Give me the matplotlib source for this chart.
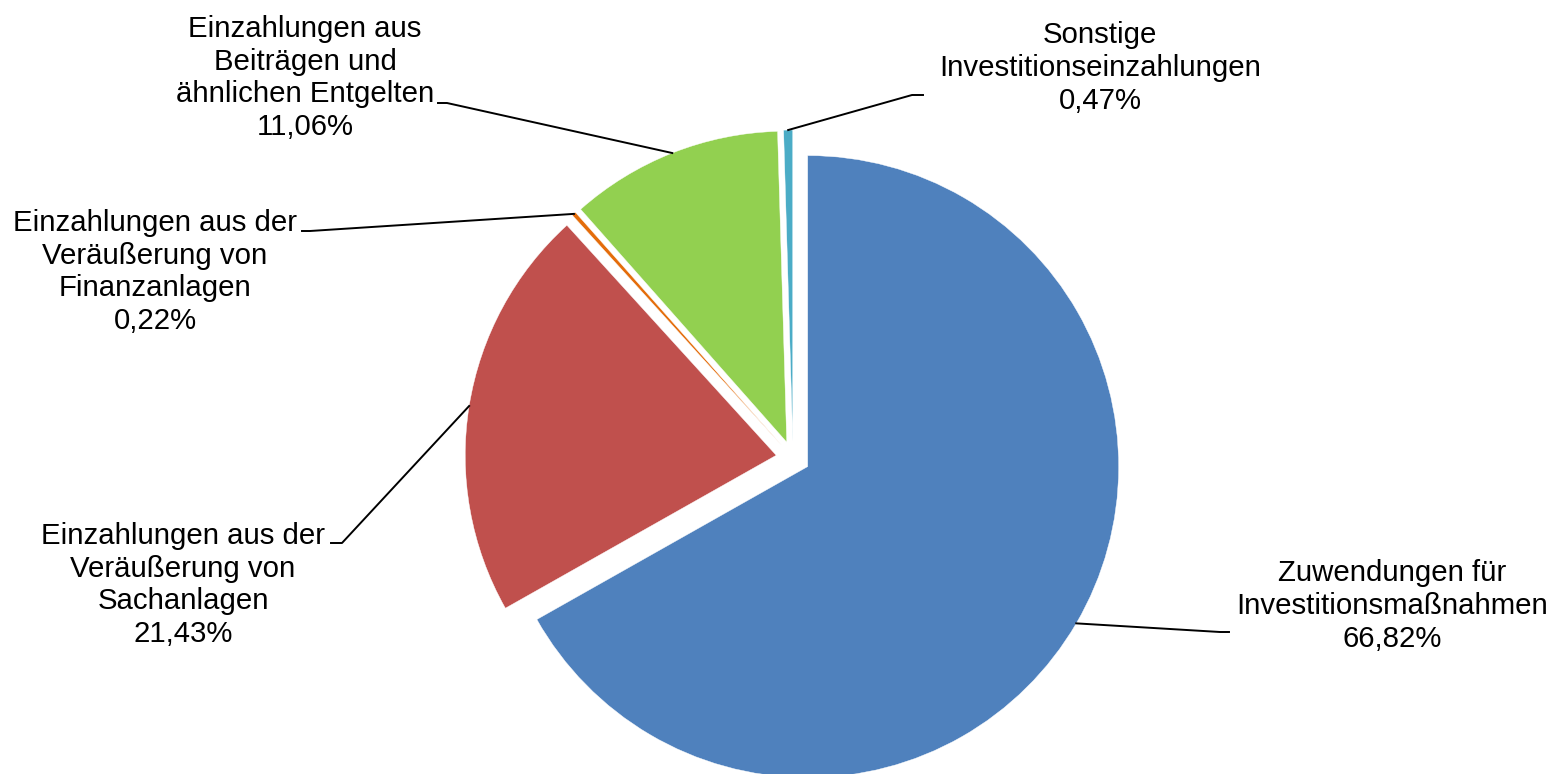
import matplotlib.pyplot as plt
import numpy as np

# Anteile der Investitionseinzahlungen (Reihenfolge im Uhrzeigersinn ab 12 Uhr)
labels = [
    "Zuwendungen für\nInvestitionsmaßnahmen",
    "Einzahlungen aus der\nVeräußerung von\nSachanlagen",
    "Einzahlungen aus der\nVeräußerung von\nFinanzanlagen",
    "Einzahlungen aus\nBeiträgen und\nähnlichen Entgelten",
    "Sonstige\nInvestitionseinzahlungen",
]
values = [66.82, 21.43, 0.22, 11.06, 0.47]
colors = ["#4F81BD", "#C0504D", "#E46C0A", "#92D050", "#4BACC6"]

W, H = 1553, 774

# Beschriftungsposition (Mitte) und Knick der Führungslinie, in Pixeln von oben links
text_pos = [(1392, 606), (183, 585), (155, 272), (305, 78), (1100, 68)]
elbow = [((1220, 632), (1229, 632)),
         ((342, 543), (331, 543)),
         ((310, 231), (302, 231)),
         ((447, 103), (438, 103)),
         ((912, 95), (923, 95))]

plt.rcParams["font.family"] = ["Liberation Sans", "DejaVu Sans"]

fig = plt.figure(figsize=(W / 100, H / 100), dpi=100)
ax = fig.add_axes([0, 0, 1, 1])

# explode wird von pie in Dateneinheiten (hier Pixel) verschoben
wedges, _ = ax.pie(values, colors=colors, startangle=90, counterclock=False,
                   center=(793, H - 458), radius=311, explode=[17] * 5,
                   wedgeprops=dict(edgecolor="white", linewidth=0.3), frame=True)

ax.set_xlim(0, W)
ax.set_ylim(0, H)
ax.axis("off")

for w, lab, v, (tx, ty), (p1, p2) in zip(wedges, labels, values, text_pos, elbow):
    mid = np.deg2rad((w.theta1 + w.theta2) / 2)
    cx, cy = w.center
    sx = cx + w.r * np.cos(mid)
    sy = cy + w.r * np.sin(mid)
    ax.plot([sx, p1[0], p2[0]], [sy, H - p1[1], H - p2[1]], color="black", lw=1.4)
    txt = lab + "\n" + ("%.2f%%" % v).replace(".", ",")
    ax.text(tx, H - ty, txt, ha="center", va="center", fontsize=21.2, linespacing=1.22)

plt.savefig("out.png", dpi=100)
